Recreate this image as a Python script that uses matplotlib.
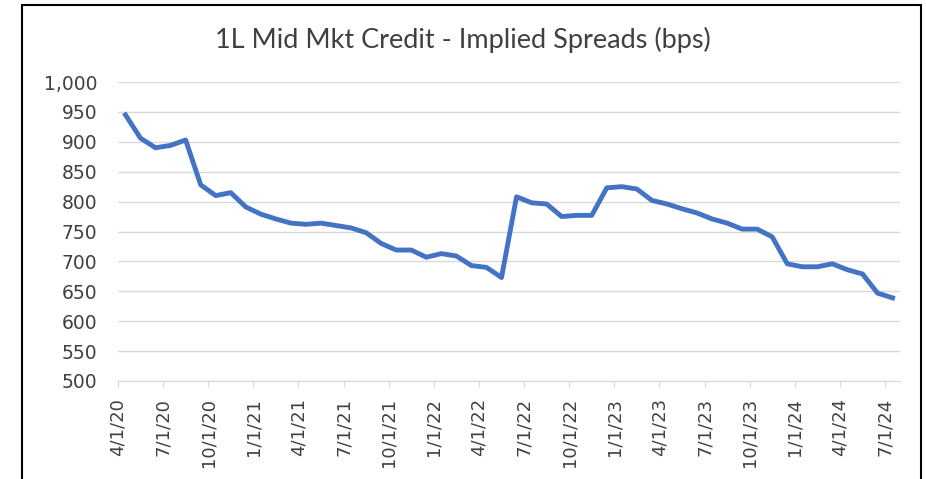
import numpy as np
import matplotlib
matplotlib.use("Agg")
import matplotlib.pyplot as plt
import matplotlib.transforms as mtransforms
from matplotlib.patches import Rectangle

plt.rcParams["font.family"] = ["DejaVu Sans"]

# Monthly implied spreads (bps), Apr 2020 - Jul 2024
months = ["4/1/20", "5/1/20", "6/1/20", "7/1/20", "8/1/20", "9/1/20", "10/1/20", "11/1/20", "12/1/20",
          "1/1/21", "2/1/21", "3/1/21", "4/1/21", "5/1/21", "6/1/21", "7/1/21", "8/1/21", "9/1/21",
          "10/1/21", "11/1/21", "12/1/21",
          "1/1/22", "2/1/22", "3/1/22", "4/1/22", "5/1/22", "6/1/22", "7/1/22", "8/1/22", "9/1/22",
          "10/1/22", "11/1/22", "12/1/22",
          "1/1/23", "2/1/23", "3/1/23", "4/1/23", "5/1/23", "6/1/23", "7/1/23", "8/1/23", "9/1/23",
          "10/1/23", "11/1/23", "12/1/23",
          "1/1/24", "2/1/24", "3/1/24", "4/1/24", "5/1/24", "6/1/24", "7/1/24"]
spreads = [945, 906, 890, 894, 903, 828, 810, 815, 791,
           779, 771, 764, 762, 764, 760, 756, 748, 730, 719, 719, 707,
           713, 709, 693, 690, 673, 808, 798, 796, 775, 777, 777, 823,
           825, 821, 802, 796, 788, 781, 771, 764, 754, 754, 741, 696,
           691, 691, 696, 686, 679, 647, 639]
tick_labels = months[::3]

fig = plt.figure(figsize=(9.26, 4.79), dpi=100)
ax = fig.add_axes([0.1274, 0.2046, 0.972 - 0.1274, 0.8288 - 0.2046])

# points sit in the middle of each month, ticks on the month start
x = np.arange(len(spreads)) + 0.5
ax.plot(x, spreads, color="#4472C4", linewidth=3.5, solid_joinstyle="round")

ax.set_xlim(0, len(spreads))
ax.set_ylim(500, 1000)
ax.set_yticks(np.arange(500, 1001, 50))
ax.set_yticklabels([f"{v:,}" for v in range(500, 1001, 50)])
ax.grid(axis="y", color="#D9D9D9", linewidth=1)
ax.set_axisbelow(True)

tick_pos = np.arange(0, len(spreads), 3)
ax.set_xticks(tick_pos)
ax.set_xticklabels(tick_labels, rotation=90, va="top", ha="center")
offset = mtransforms.ScaledTranslation(5 / 100, 0, fig.dpi_scale_trans)
for lbl in ax.get_xticklabels():
    lbl.set_transform(lbl.get_transform() + offset)

for side in ["top", "right", "left"]:
    ax.spines[side].set_visible(False)
ax.spines["bottom"].set_color("#D9D9D9")
ax.tick_params(axis="x", length=4, color="#D9D9D9", pad=8, labelsize=13, labelcolor="#404040")
ax.tick_params(axis="y", length=0, pad=15, labelsize=13.5, labelcolor="#404040")

fig.text(0.5, 1 - 40 / 479, "1L Mid Mkt Credit - Implied Spreads (bps)", ha="center", va="center",
         fontsize=19.5, color="#404040", family="Lato")

fig.patches.append(Rectangle((22 / 926, -0.05), (921 - 22) / 926, 1 - 5 / 479 + 0.05,
                             transform=fig.transFigure, fill=False, edgecolor="black", linewidth=1.5))

fig.savefig("out.png", dpi=100)
